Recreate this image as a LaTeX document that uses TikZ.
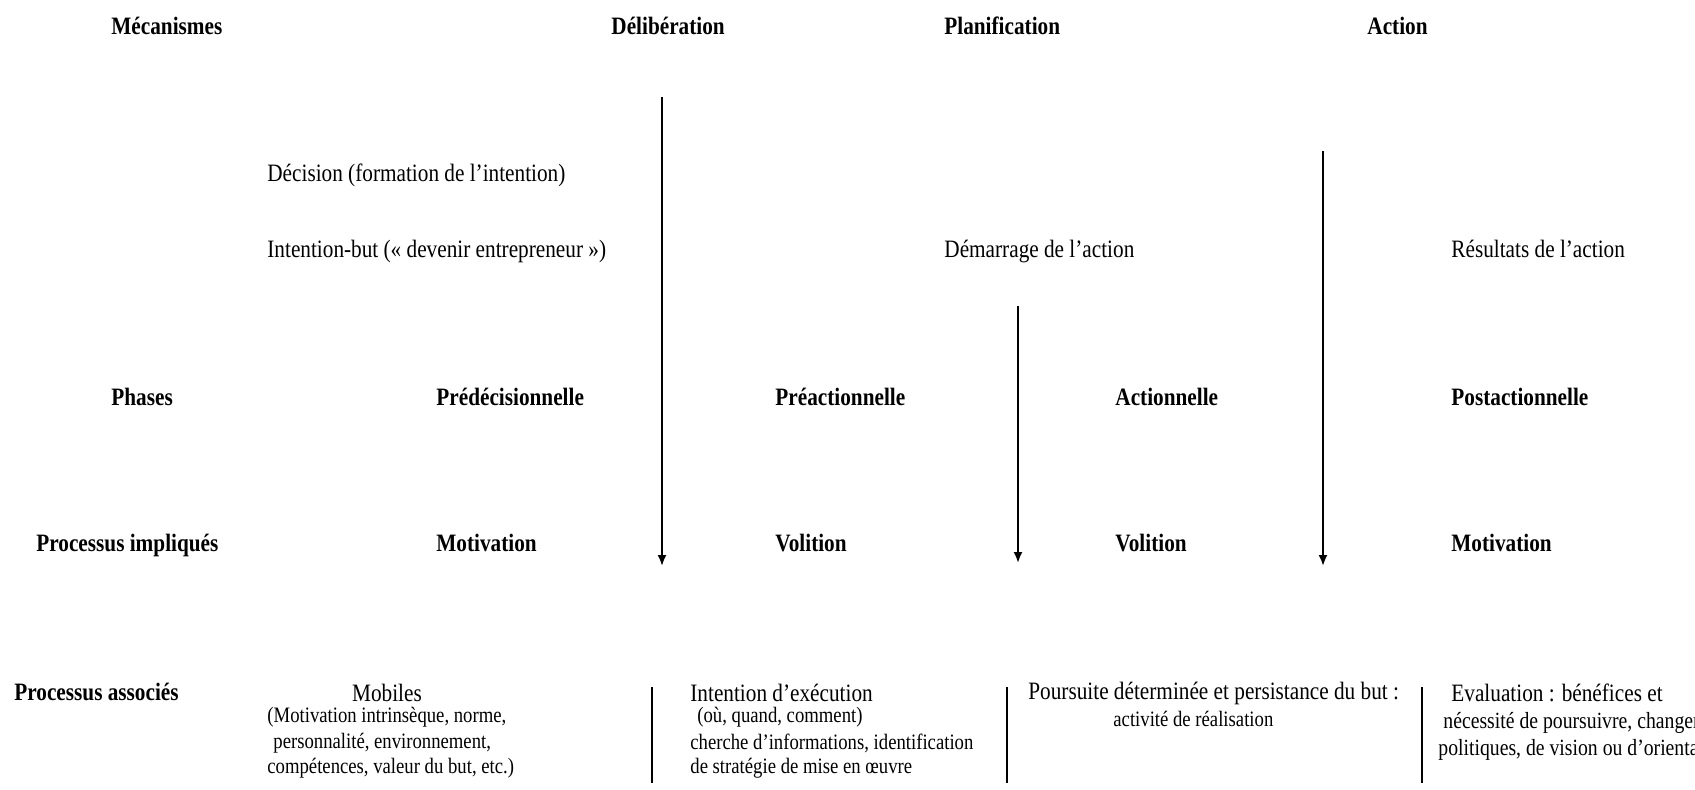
\documentclass[tikz,border=0pt]{standalone}
\usepackage{fontspec}
\setmainfont[FakeStretch=0.85]{Liberation Serif}
\usetikzlibrary{arrows.meta}

\begin{document}
\begin{tikzpicture}[x=0.5pt,y=-0.5pt,
  titre/.style={anchor=west,inner sep=0pt,font=\fontsize{12.5}{15}\selectfont\bfseries},
  texte/.style={anchor=west,inner sep=0pt,font=\fontsize{12.5}{15}\selectfont},
  petit/.style={anchor=west,inner sep=0pt,font=\fontsize{11}{13}\selectfont},
  moyen/.style={anchor=west,inner sep=0pt,font=\fontsize{11.6}{14}\selectfont},
  fleche/.style={-{Latex[length=5.5pt,width=4.5pt]},line width=1pt},
  barre/.style={line width=1pt}]
\clip (0,0) rectangle (1695,789);
% mecanismes
\node[titre] (mecanismes) at (111,26) {Mécanismes};
\node[titre] (deliberation) at (611,26) {Délibération};
\node[titre] (planification) at (944,26) {Planification};
\node[titre] (action) at (1367,26) {Action};
\node[texte] (decision) at (267,175) {Décision (formation de l’intention)};
\node[texte] (intentionbut) at (267,251) {Intention-but (« devenir entrepreneur »)};
\node[texte] (demarrage) at (944,251) {Démarrage de l’action};
\node[texte] (resultats) at (1451,249) {Résultats de l’action};
% phases
\node[titre] (phases) at (111,397) {Phases};
\node[titre] (predec) at (436,397) {Prédécisionnelle};
\node[titre] (preact) at (775,397) {Préactionnelle};
\node[titre] (actionnelle) at (1115,397) {Actionnelle};
\node[titre] (postact) at (1451,397) {Postactionnelle};
% processus impliques
\node[titre] (procimpl) at (36,545) {Processus impliqués};
\node[titre] (motiva) at (436,543) {Motivation};
\node[titre] (volita) at (775,543) {Volition};
\node[titre] (volitb) at (1115,543) {Volition};
\node[titre] (motivb) at (1451,543) {Motivation};
% fleches entre phases
\coordinate (fa1) at (662,97);
\coordinate (fa2) at (662,566);
\coordinate (fb1) at (1018,306);
\coordinate (fb2) at (1018,563);
\coordinate (fc1) at (1323,151);
\coordinate (fc2) at (1323,566);
\draw[fleche] (fa1) -- (fa2);
\draw[fleche] (fb1) -- (fb2);
\draw[fleche] (fc1) -- (fc2);
% processus associes
\node[titre] (procassoc) at (14,692) {Processus associés};
\node[texte,anchor=center] (mobiles) at (387,693) {Mobiles};
\node[petit] (mob1) at (267,717) {(Motivation intrinsèque, norme,};
\node[petit] (mob2) at (273,743) {personnalité, environnement,};
\node[petit] (mob3) at (267,768) {compétences, valeur du but, etc.)};
\coordinate (ba1) at (652,687);
\coordinate (ba2) at (652,783);
\draw[barre] (ba1) -- (ba2);
\node[texte] (exec) at (690,693) {Intention d’exécution};
\node[petit] (exec1) at (697,717) {(où, quand, comment)};
\node[petit] (exec2) at (690,743) {cherche d’informations, identification};
\node[petit] (exec3) at (690,768) {de stratégie de mise en œuvre};
\coordinate (bb1) at (1007,687);
\coordinate (bb2) at (1007,783);
\draw[barre] (bb1) -- (bb2);
\node[texte] (poursuite) at (1028,693) {Poursuite déterminée et persistance du but :};
\node[petit] (poursuite1) at (1113,719) {activité de réalisation};
\coordinate (bc1) at (1422,687);
\coordinate (bc2) at (1422,783);
\draw[barre] (bc1) -- (bc2);
\node[texte] (evaluation) at (1451,693) {Evaluation : bénéfices et};
\node[moyen] (evaluation1) at (1443,723) {nécessité de poursuivre, changer};
\node[moyen] (evaluation2) at (1438,750) {politiques, de vision ou d’orientation};
\end{tikzpicture}
\end{document}
